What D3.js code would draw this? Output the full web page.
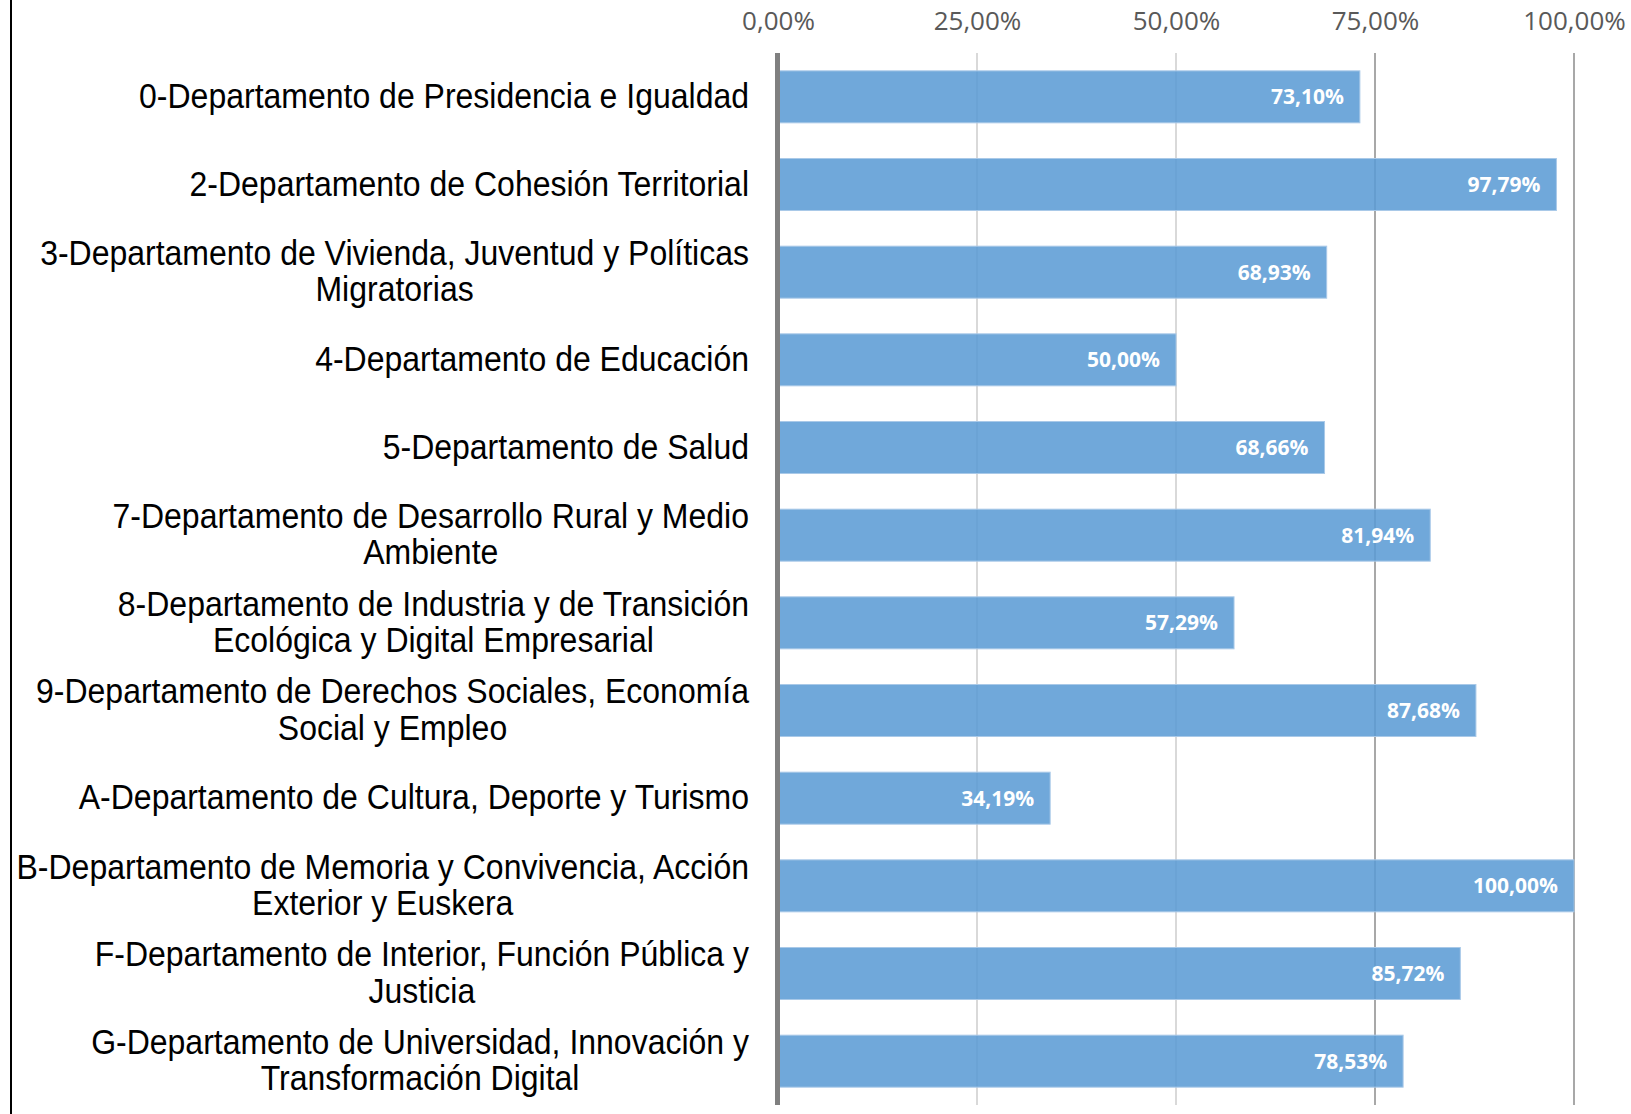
<!DOCTYPE html>
<html>
<head>
<meta charset="utf-8">
<style>
    body { margin: 0; background: #fff; }
    .cat text { font-family: "Liberation Sans", Arial, sans-serif; font-size: 32px; fill: #000; }
    .tick text { font-family: "Open Sans", sans-serif; font-size: 26px; fill: #595959; }
    .val { font-family: "Open Sans", sans-serif; font-size: 21px; font-weight: 700; fill: #fff; text-anchor: end; }
</style>
</head>
<body>
<script src="https://d3js.org/d3.v7.min.js"></script>
<svg width="1631" height="1114"></svg>
<script>
    // departments (top to bottom)
    var departments = [
        "0-Departamento de Presidencia e Igualdad",
        "2-Departamento de Cohesión Territorial",
        "3-Departamento de Vivienda, Juventud y Políticas Migratorias",
        "4-Departamento de Educación",
        "5-Departamento de Salud",
        "7-Departamento de Desarrollo Rural y Medio Ambiente",
        "8-Departamento de Industria y de Transición Ecológica y Digital Empresarial",
        "9-Departamento de Derechos Sociales, Economía Social y Empleo",
        "A-Departamento de Cultura, Deporte y Turismo",
        "B-Departamento de Memoria y Convivencia, Acción Exterior y Euskera",
        "F-Departamento de Interior, Función Pública y Justicia",
        "G-Departamento de Universidad, Innovación y Transformación Digital"
    ];
    // percentage executed
    var pct = [73.10, 97.79, 68.93, 50.00, 68.66, 81.94, 57.29, 87.68, 34.19, 100.00, 85.72, 78.53];
    var tickValues = [0, 25, 50, 75, 100];

    var data = departments.map(function(d, i) { return {name: d, value: pct[i]}; });

    var es = d3.formatLocale({decimal: ",", thousands: ".", grouping: [3], currency: ["", " €"]});
    var fmt = function(v) { return es.format(".2f")(v) + "%"; };

    var svg = d3.select("svg");

    var x = d3.scaleLinear().domain([0, 100]).range([778, 1574]);
    var y = d3.scaleBand()
        .domain(departments)
        .range([53, 1105])
        .paddingInner(0.407)
        .paddingOuter(0.2035);

    // left frame line
    svg.append("line")
        .attr("x1", 11).attr("x2", 11)
        .attr("y1", 0).attr("y2", 1114)
        .attr("stroke", "#000").attr("stroke-width", 2);

    // gridlines
    svg.append("g").selectAll("line")
        .data(tickValues.slice(1))
        .enter().append("line")
        .attr("x1", function(d) { return x(d); })
        .attr("x2", function(d) { return x(d); })
        .attr("y1", 53).attr("y2", 1105)
        .attr("stroke", function(d) { return d > 50 ? "#a8a8a8" : "#d9d9d9"; })
        .attr("stroke-width", 2);

    // top axis labels
    var axis = d3.axisTop(x)
        .tickValues(tickValues)
        .tickFormat(fmt)
        .tickSize(0)
        .tickPadding(0);
    svg.append("g")
        .attr("transform", "translate(0,30)")
        .call(axis)
        .call(function(g) { g.select(".domain").remove(); });

    // bars
    var bars = svg.append("g").selectAll("g")
        .data(data)
        .enter().append("g");

    bars.append("rect")
        .attr("x", x(0))
        .attr("y", function(d) { return y(d.name); })
        .attr("width", function(d) { return x(d.value) - x(0); })
        .attr("height", y.bandwidth())
        .attr("fill", "#5b9bd5")
        .attr("fill-opacity", 0.87)
        .attr("stroke", "#a9c9e8")
        .attr("stroke-width", 1);

    bars.append("text")
        .attr("class", "val")
        .attr("x", function(d) { return x(d.value) - 16; })
        .attr("y", function(d) { return y(d.name) + y.bandwidth() / 2; })
        .attr("dy", "0.36em")
        .text(function(d) { return fmt(d.value); });

    // zero axis line
    svg.append("line")
        .attr("x1", x(0) - 0.5).attr("x2", x(0) - 0.5)
        .attr("y1", 53).attr("y2", 1105)
        .attr("stroke", "#808080").attr("stroke-width", 5);

    // category labels, wrapped and centered in a right-aligned block
    var labelRight = 749, maxWidth = 745, lineH = 36.4, stretch = 1.07;
    var cats = svg.append("g").attr("class", "cat");

    data.forEach(function(d) {
        var cy = y(d.name) + y.bandwidth() / 2;
        var t = cats.append("text")
            .attr("text-anchor", "middle")
            .attr("transform", "translate(0," + cy + ") scale(1," + stretch + ")");
        var words = d.name.split(" ");
        var lines = [];
        var line = [];
        var probe = t.append("tspan");
        words.forEach(function(w) {
            line.push(w);
            probe.text(line.join(" "));
            if (probe.node().getComputedTextLength() > maxWidth && line.length > 1) {
                line.pop();
                lines.push(line.join(" "));
                line = [w];
            }
        });
        lines.push(line.join(" "));
        probe.remove();

        var widths = lines.map(function(l) {
            var s = t.append("tspan").text(l);
            var w = s.node().getComputedTextLength();
            s.remove();
            return w;
        });
        var cx = labelRight - d3.max(widths) / 2;
        var n = lines.length;

        t.selectAll("tspan")
            .data(lines)
            .enter().append("tspan")
            .attr("x", cx)
            .attr("y", function(l, i) { return ((i - (n - 1) / 2) * lineH + 11) / stretch; })
            .text(function(l) { return l; });
    });
</script>
</body>
</html>
